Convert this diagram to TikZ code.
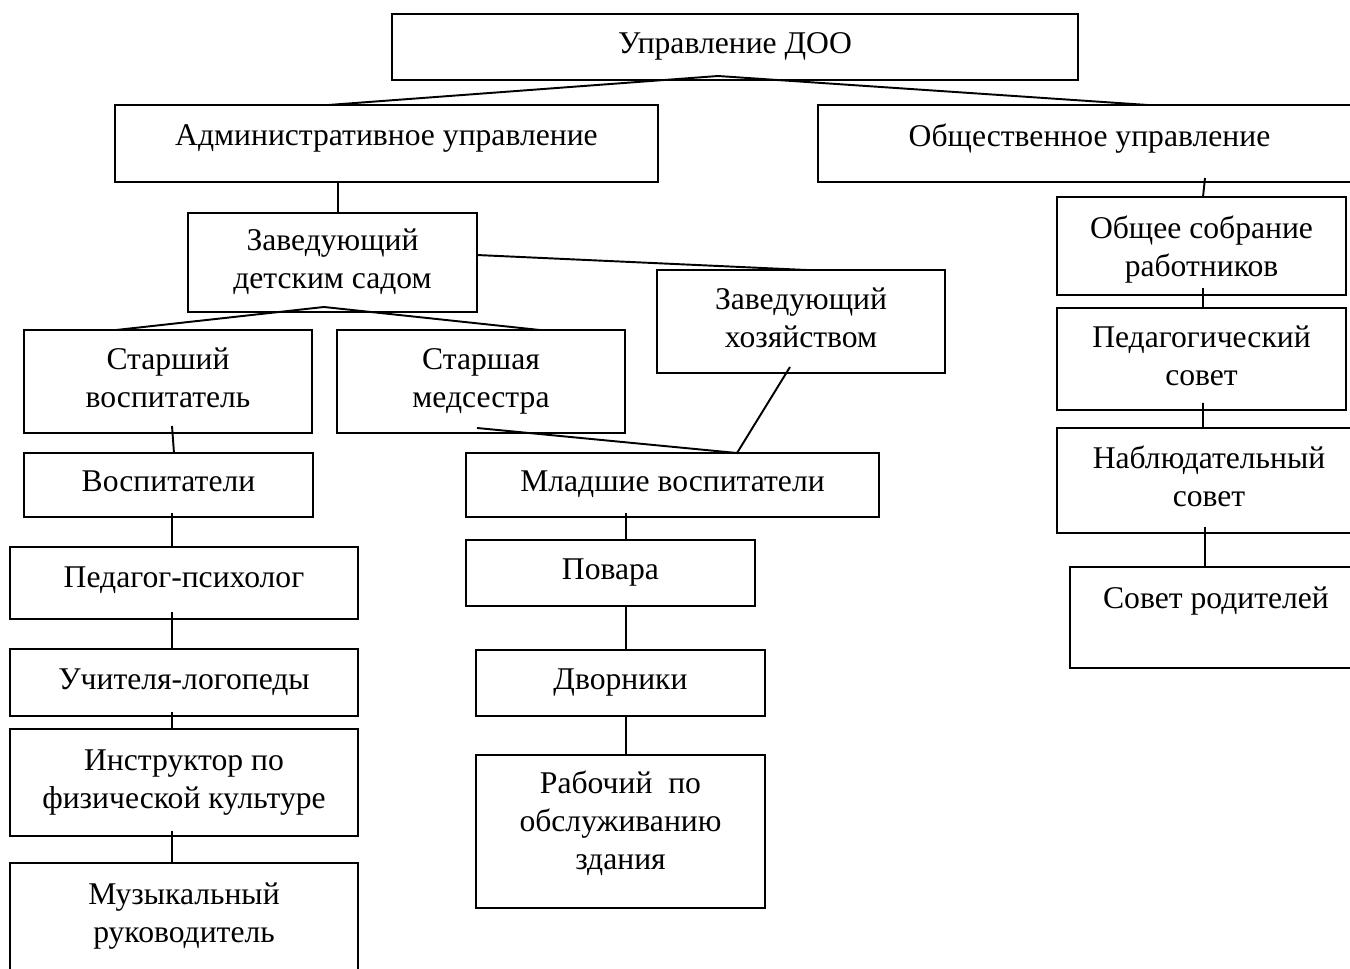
\documentclass[tikz,border=0pt]{standalone}
\usepackage{fontspec}
\setmainfont{Liberation Serif}
\usetikzlibrary{calc}

\tikzset{
  unit/.style 2 args={draw, rectangle, inner sep=0pt, outer sep=0pt,
    align=center, text depth=0.14cm, minimum width=#1cm, minimum height=#2cm},
  lift/.style={text depth=#1cm},
}

\begin{document}
\begin{tikzpicture}[x=0.02cm, y=-0.02cm, line width=1.1pt,
    font=\fontsize{18}{21.6}\selectfont]
  \useasboundingbox (0,0) rectangle (1350,968);
  \clip (0,0) rectangle (1350,968);

  % top levels
  \node[unit={13.72}{1.32}] (top) at (735,47) {Управление ДОО};
  \node[unit={10.86}{1.54}, lift=0.32] (admin) at (386.5,143.5) {Административное управление};
  \node[unit={10.86}{1.54}, lift=0.32] (public) at (1089.5,143.5) {Общественное управление};

  % administrative branch
  \node[unit={5.78}{1.98}] (zav) at (332.5,262.5) {Заведующий\\детским садом};
  \node[unit={5.76}{2.06}] (hoz) at (801,321.5) {Заведующий\\хозяйством};
  \node[unit={5.76}{2.06}] (stvosp) at (168,381.5) {Старший\\воспитатель};
  \node[unit={5.76}{2.06}] (stmed) at (481,381.5) {Старшая\\медсестра};
  \node[unit={5.78}{1.28}] (vosp) at (168.5,485) {Воспитатели};
  \node[unit={8.26}{1.28}] (mlvosp) at (672.5,485) {Младшие воспитатели};
  \node[unit={6.96}{1.44}, lift=0.22] (psych) at (184,583) {Педагог-психолог};
  \node[unit={6.96}{1.34}] (logo) at (184,682.5) {Учителя-логопеды};
  \node[unit={6.96}{2.14}] (instr) at (184,782.5) {Инструктор по\\физической культуре};
  \node[unit={6.96}{2.44}, lift=0.44] (muz) at (184,924) {Музыкальный\\руководитель};
  \node[unit={5.78}{1.32}] (povar) at (610.5,573) {Повара};
  \node[unit={5.78}{1.32}] (dvor) at (620.5,683) {Дворники};
  \node[unit={5.78}{3.06}, lift=0.44] (rab) at (620.5,831.5) {Рабочий~~по\\обслуживанию\\здания};

  % public branch
  \node[unit={5.78}{1.96}, lift=0] (sobr) at (1201.5,246) {Общее собрание\\работников};
  \node[unit={5.78}{2.04}] (pedsov) at (1201.5,359) {Педагогический\\совет};
  \node[unit={6.08}{2.10}, lift=0.18] (nabl) at (1209,480.5) {Наблюдательный\\совет};
  \node[unit={5.84}{2.02}, lift=0.80] (rod) at (1216,617.5) {Совет родителей};

  % connectors
  \draw ($(admin.north)+(-58.5,0)$) -- ($(top.south)+(-17,-4)$) -- ($(public.north)+(58.5,0)$);
  \draw ($(zav.north)+(5.5,0)$) -- ($(admin.south)+(-48.5,0)$);
  \draw ($(stvosp.north)+(-52,0)$) -- ($(zav.south)+(-8.5,-5)$) -- ($(stmed.north)+(59,0)$);
  \draw ($(zav.east)+(0,-7.5)$) -- ($(hoz.north)+(6,0)$);
  \draw ($(hoz.south)+(-11,-6)$) -- ($(mlvosp.north)+(64.5,0)$) -- ($(stmed.south)+(-4,-5)$);
  \draw ($(stvosp.south)+(4,-7)$) -- ($(vosp.north)+(5.5,0)$);
  \draw ($(vosp.south)+(3.5,-4)$) -- ($(psych.north)+(-12,0)$);
  \draw ($(psych.south)+(-12,-7)$) -- ($(logo.north)+(-12,0)$);
  \draw ($(logo.south)+(-12,-4)$) -- ($(instr.north)+(-12,0)$);
  \draw ($(instr.south)+(-12,-5)$) -- ($(muz.north)+(-12,0)$);
  \draw ($(mlvosp.south)+(-46.5,-4)$) -- ($(povar.north)+(15.5,0)$);
  \draw ($(povar.south)+(15.5,0)$) -- ($(dvor.north)+(5.5,0)$);
  \draw ($(dvor.south)+(5.5,0)$) -- ($(rab.north)+(5.5,0)$);
  \draw ($(public.south)+(115.5,-4)$) -- ($(sobr.north)+(1.5,0)$);
  \draw ($(sobr.south)+(1.5,-7)$) -- ($(pedsov.north)+(1.5,0)$);
  \draw ($(pedsov.south)+(1.5,-7)$) -- ($(nabl.north)+(-6,0)$);
  \draw ($(nabl.south)+(-4,-6)$) -- ($(rod.north)+(-11,0)$);
\end{tikzpicture}
\end{document}
